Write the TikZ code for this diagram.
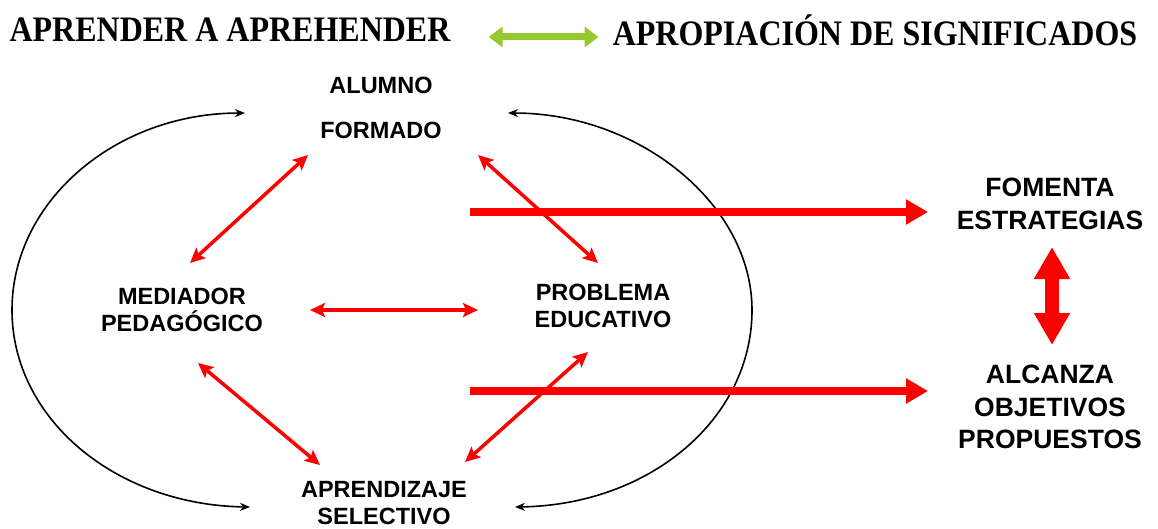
\documentclass[tikz,border=0pt]{standalone}
\usepackage{fontspec}
\setmainfont{Liberation Serif}
\newfontfamily\arialfont{Liberation Sans}
\usetikzlibrary{positioning}
\usetikzlibrary{arrows.meta}

\definecolor{hojaverde}{RGB}{150,200,50}

\begin{document}
\begin{tikzpicture}[x=1pt,y=-1pt,
  lbl/.style={align=center,inner sep=0pt,font=\arialfont\bfseries\fontsize{23.5}{27}\selectfont},
  biglbl/.style={align=center,inner sep=0pt,font=\arialfont\bfseries\fontsize{26.5}{32.5}\selectfont},
  ttl/.style={inner sep=0pt,font=\bfseries\fontsize{32}{36}\selectfont},
  link/.style={red,line width=3.5pt,{Stealth[length=15pt,width=14pt,inset=3pt]}-{Stealth[length=15pt,width=14pt,inset=3pt]}},
  bigarr/.style={red,line width=8pt,-{Triangle[length=22pt,width=24pt]}},
  ciclo/.style={black,line width=1.6pt,{Stealth[length=10pt,width=8pt]}-{Stealth[length=10pt,width=8pt]}}]
\useasboundingbox (0,0) rectangle (1158,529);
\node[ttl](tit1) at (230,30){\scalebox{1}[1.12]{APRENDER A APREHENDER}};
\node[ttl](tit2) at (875,30){\scalebox{1}[1.12]{APROPIACIÓN DE SIGNIFICADOS}};
\draw[hojaverde,line width=7pt,{Triangle[length=14pt,width=20pt]}-{Triangle[length=14pt,width=20pt]}]
  ([shift={(38,7)}]tit1.east) -- ([shift={(-14,7)}]tit2.west);

\node[lbl](alumno) at (381,85){ALUMNO};
\node[lbl, below = 28pt of alumno](formado){FORMADO};
\node[lbl](mediador) at (182,310){MEDIADOR\\PEDAGÓGICO};
\node[lbl](problema) at (603,306){PROBLEMA\\EDUCATIVO};
\node[lbl](aprendizaje) at (384,503){APRENDIZAJE\\SELECTIVO};
\node[biglbl](fomenta) at (1050,204){FOMENTA\\ESTRATEGIAS};
\node[biglbl](alcanza) at (1050,407){ALCANZA\\OBJETIVOS\\PROPUESTOS};

% ciclo exterior
\draw[ciclo] ([shift={(-136,-17)}]formado.center) .. controls (116,113) and (12,201) .. (12,310)
  .. controls (12,419) and (116,505) .. ([shift={(-134,4)}]aprendizaje.center);
\draw[ciclo] ([shift={(127,-17)}]formado.center) .. controls (640,113) and (752,205) .. (752,310)
  .. controls (752,419) and (650,505) .. ([shift={(131,4)}]aprendizaje.center);

% relaciones internas
\draw[link] ([shift={(-73,25)}]formado.center) -- ([shift={(8,-47)}]mediador.center);
\draw[link] ([shift={(97,25)}]formado.center) -- ([shift={(-5,-43)}]problema.center);
\draw[link] ([shift={(128,0)}]mediador.center) -- ([shift={(-125,4)}]problema.center);
\draw[link] ([shift={(16,53)}]mediador.center) -- ([shift={(-64,-38)}]aprendizaje.center);
\draw[link] ([shift={(-15,46)}]problema.center) -- ([shift={(81,-41)}]aprendizaje.center);

% resultados
\coordinate (sal1) at (470,212);
\coordinate (sal2) at (470,391);
\draw[bigarr] (sal1) -- ([shift={(-122,8)}]fomenta.center);
\draw[bigarr] (sal2) -- ([shift={(-122,-16)}]alcanza.center);
\draw[red,line width=14pt,{Triangle[length=32pt,width=34pt]}-{Triangle[length=32pt,width=34pt]}]
  ([shift={(2,43)}]fomenta.center) -- ([shift={(2,-62)}]alcanza.center);
\end{tikzpicture}
\end{document}
